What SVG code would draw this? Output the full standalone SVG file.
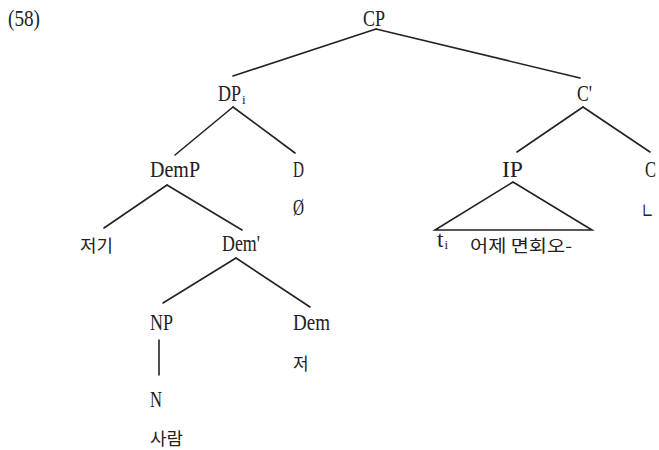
<svg xmlns="http://www.w3.org/2000/svg" width="659" height="450" viewBox="0 0 659 450">
<style>
.t{font-family:"Liberation Serif","DejaVu Serif",serif;font-size:23px;fill:#222}
.k{font-family:"Noto Sans CJK KR","Noto Sans",sans-serif;font-size:17px;fill:#222}
.s{font-family:"Liberation Serif","DejaVu Serif",serif;font-size:13px;fill:#222}
.e{stroke:#222;stroke-width:1.6;fill:none;stroke-linecap:round}
</style>
<rect width="659" height="450" fill="#fff"/>
<text class="t" x="8" y="26" textLength="32" lengthAdjust="spacingAndGlyphs">(58)</text>
<g id="connectors">
<line class="e" x1="376" y1="29" x2="233" y2="76"/>
<line class="e" x1="376" y1="29" x2="580" y2="78"/>
<line class="e" x1="233" y1="107" x2="175" y2="155"/>
<line class="e" x1="233" y1="107" x2="295" y2="153"/>
<line class="e" x1="167" y1="185" x2="104" y2="228"/>
<line class="e" x1="167" y1="185" x2="242" y2="230"/>
<line class="e" x1="236" y1="258" x2="163" y2="303"/>
<line class="e" x1="236" y1="258" x2="310" y2="307"/>
<line class="e" x1="159" y1="340" x2="159" y2="375"/>
<line class="e" x1="583" y1="107" x2="517" y2="152"/>
<line class="e" x1="583" y1="107" x2="650" y2="152"/>
<polygon class="e" points="513,182 435,230 592,230" stroke-linejoin="miter"/>
</g>
<g id="CP"><text class="t" x="363" y="26" textLength="22" lengthAdjust="spacingAndGlyphs">CP</text></g>
<g id="DP"><text class="t" x="218" y="101"><tspan textLength="23" lengthAdjust="spacingAndGlyphs">DP</tspan><tspan class="s" dx="1" dy="3">i</tspan></text></g>
<g id="Cbar"><text class="t" x="577" y="101" textLength="15" lengthAdjust="spacingAndGlyphs">C'</text></g>
<g id="DemP"><text class="t" x="150" y="177" textLength="50" lengthAdjust="spacingAndGlyphs">DemP</text></g>
<g id="D"><text class="t" x="293" y="177" textLength="11" lengthAdjust="spacingAndGlyphs">D</text><text class="t" x="293" y="215" textLength="11" lengthAdjust="spacingAndGlyphs">Ø</text></g>
<g id="IP"><text class="t" x="502" y="177" textLength="21" lengthAdjust="spacingAndGlyphs">IP</text></g>
<g id="C"><text class="t" x="645" y="177" textLength="11" lengthAdjust="spacingAndGlyphs">C</text><text class="k" x="641" y="219" style="font-size:24px" textLength="13" lengthAdjust="spacingAndGlyphs">ㄴ</text></g>
<g id="jeogi"><text class="k" x="80" y="252" textLength="33" lengthAdjust="spacingAndGlyphs">저기</text></g>
<g id="Dembar"><text class="t" x="222" y="251" textLength="38" lengthAdjust="spacingAndGlyphs">Dem'</text></g>
<g id="IPcontent"><text class="t" x="437" y="247">t<tspan class="s" dx="1" dy="2">i</tspan></text><text class="k" x="470" y="252" textLength="102" lengthAdjust="spacingAndGlyphs">어제 면회오-</text></g>
<g id="NP"><text class="t" x="150" y="330" textLength="23" lengthAdjust="spacingAndGlyphs">NP</text></g>
<g id="Dem"><text class="t" x="293" y="330" textLength="37" lengthAdjust="spacingAndGlyphs">Dem</text><text class="k" x="293" y="370">저</text></g>
<g id="N"><text class="t" x="150" y="407" textLength="12" lengthAdjust="spacingAndGlyphs">N</text><text class="k" x="150" y="445" textLength="33" lengthAdjust="spacingAndGlyphs">사람</text></g>
</svg>
